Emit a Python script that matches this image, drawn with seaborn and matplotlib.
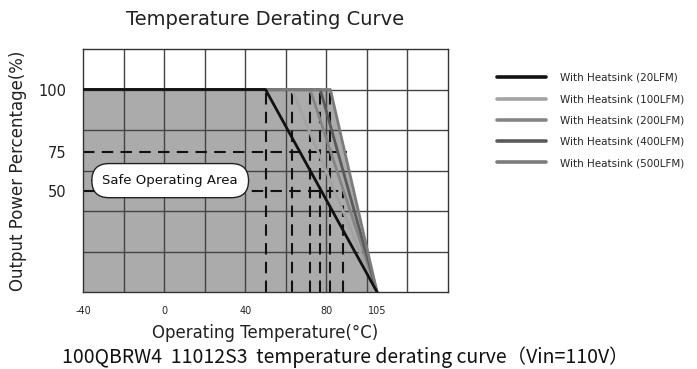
import matplotlib
matplotlib.use("Agg")
import matplotlib.pyplot as plt
import seaborn as sns
import pandas as pd
from matplotlib.lines import Line2D

# ---- data ----
series_names = ["With Heatsink (20LFM)", "With Heatsink (100LFM)", "With Heatsink (200LFM)",
                "With Heatsink (400LFM)", "With Heatsink (500LFM)"]
knee_temps = [50, 63, 72, 77, 82]          # °C where derating starts (100 %)
end_temp = 105                              # °C where output reaches 0 %
start_temp = -40
series_colors = ["#111111", "#a3a3a3", "#858585", "#5a5a5a", "#7c7c7c"]

x_tick_vals = [-40, 0, 40, 80, 105]
x_tick_labels = ["-40", "0", "40", "80", "105"]
y_tick_vals = [100, 69, 50]                 # "75" is drawn at this height in the reference
y_tick_labels = ["100", "75", "50"]
x_grid = list(range(-20, 121, 20))
y_grid = list(range(20, 101, 20))

# dashed reference lines
v_dash_x = [50, 63, 72, 77, 82]
v_dash_top = 100
v_dash2_x = 88
v_dash2_top = 50
h_dash = [(69, 90), (50, 89)]               # (level, right end)

rows = []
for name, k in zip(series_names, knee_temps):
    for t, p in [(start_temp, 100), (k, 100), (end_temp, 0)]:
        rows.append({"series": name, "temp": t, "power": p})
df = pd.DataFrame(rows)

sns.set_theme(style="white")
plt.rcParams["font.family"] = ["DejaVu Sans"]

fig = plt.figure(figsize=(6.97, 3.69), dpi=100)
ax = fig.add_axes([83 / 697, 77 / 369, 365 / 697, 243 / 369])

# safe operating area (under the outermost curve)
outer = df[df.series == series_names[-1]]
ax.fill_between(outer.temp, 0, outer.power, color="#ababab", zorder=0, linewidth=0)

# grid
for gx in x_grid:
    ax.axvline(gx, color="#444444", linewidth=1.0, zorder=1)
for gy in y_grid:
    ax.axhline(gy, color="#444444", linewidth=1.0, zorder=1)

# dashed lines
dash_kw = dict(color="#111111", linewidth=1.5, linestyle=(0, (5.5, 3.5)), zorder=2)
for x in v_dash_x:
    ax.plot([x, x], [0, v_dash_top], **dash_kw)
ax.plot([v_dash2_x, v_dash2_x], [0, v_dash2_top], **dash_kw)
for lvl, right in h_dash:
    ax.plot([start_temp, right], [lvl, lvl], **dash_kw)

# curves
palette = dict(zip(series_names, series_colors))
n_before = len(ax.get_lines())
sns.lineplot(data=df, x="temp", y="power", hue="series", hue_order=series_names,
             palette=palette, linewidth=2.0, ax=ax, legend=False,
             estimator=None, sort=False)
for line in ax.get_lines()[n_before:]:
    line.set_zorder(3)
    if line.get_color() in ("#111111",) or tuple(line.get_color()) == (0.06666666666666667,) * 3:
        line.set_zorder(4)

ax.set_xlim(-40, 140)
ax.set_ylim(0, 120)
ax.set_xticks(x_tick_vals, x_tick_labels)
ax.set_yticks(y_tick_vals, y_tick_labels)
ax.tick_params(axis="x", length=0, labelsize=7, pad=10, colors="#222222")
ax.tick_params(axis="y", length=0, labelsize=10.5, pad=12, colors="#222222")
for s in ax.spines.values():
    s.set_color("#333333")
    s.set_linewidth(1.0)

ax.set_xlabel("Operating Temperature(°C)", fontsize=12, color="#222222", labelpad=6)
ax.set_ylabel("Output Power Percentage(%)", fontsize=12, color="#222222", labelpad=8)
ax.set_title("Temperature Derating Curve", fontsize=14, color="#222222", pad=17)

ax.text(3, 55, "Safe Operating Area", fontsize=9.5, ha="center", va="center", color="#111111",
        zorder=5,
        bbox=dict(boxstyle="round,pad=0.8,rounding_size=1.3", fc="white", ec="#222222", lw=1.0))

# legend
handles = [Line2D([0], [0], color=c, lw=2.6) for c in series_colors]
fig.legend(handles, series_names, loc="upper left", bbox_to_anchor=(497 / 697, 1 - 73 / 369),
           frameon=False, fontsize=7.5, handlelength=4.7, handletextpad=1.3, labelspacing=1.08,
           borderaxespad=0, borderpad=0)

fig.text(345 / 697, 1 - 357 / 369, "100QBRW4  11012S3  temperature derating curve（Vin=110V）",
         ha="center", va="center", fontsize=14, fontweight="medium", color="#111111",
         family=["Noto Sans CJK SC", "DejaVu Sans"])

fig.savefig("out.png", dpi=100)
